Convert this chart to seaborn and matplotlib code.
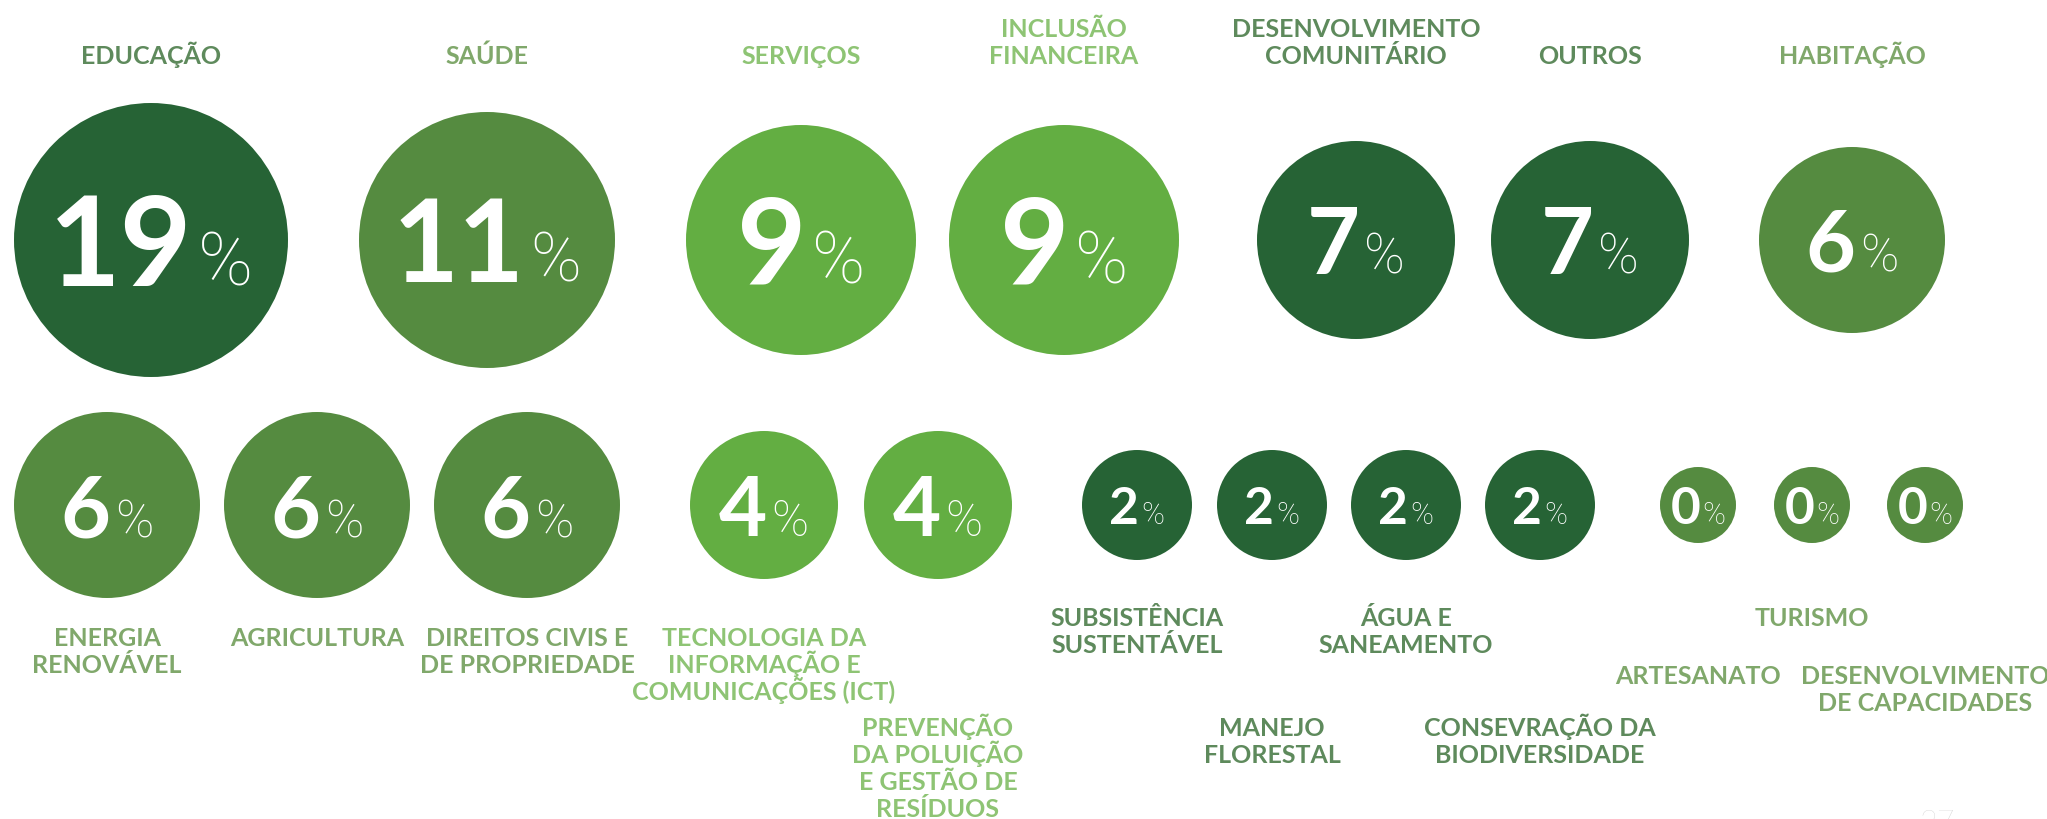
import pandas as pd
import matplotlib
matplotlib.use("Agg")
import matplotlib.pyplot as plt
import seaborn as sns

# dados
categorias = [
    "EDUCAÇÃO", "SAÚDE", "SERVIÇOS", "INCLUSÃO\nFINANCEIRA",
    "DESENVOLVIMENTO\nCOMUNITÁRIO", "OUTROS", "HABITAÇÃO",
    "ENERGIA\nRENOVÁVEL", "AGRICULTURA", "DIREITOS CIVIS E\nDE PROPRIEDADE",
    "TECNOLOGIA DA\nINFORMAÇÃO E\nCOMUNICAÇÕES (ICT)",
    "PREVENÇÃO\nDA POLUIÇÃO\nE GESTÃO DE\nRESÍDUOS",
    "SUBSISTÊNCIA\nSUSTENTÁVEL", "MANEJO\nFLORESTAL", "ÁGUA E\nSANEAMENTO",
    "CONSEVRAÇÃO DA\nBIODIVERSIDADE",
    "ARTESANATO", "TURISMO", "DESENVOLVIMENTO\nDE CAPACIDADES",
]
valores = [19, 11, 9, 9, 7, 7, 6, 6, 6, 6, 4, 4, 2, 2, 2, 2, 0, 0, 0]
pagina = "27"

# layout (pixels da figura)
linha = [0] * 7 + [1] * 12
pos_x = [151, 487, 801, 1064, 1356, 1590, 1852,
         107, 317, 527, 764, 938, 1137, 1272, 1406, 1540, 1698, 1812, 1925]
pos_y_linha = {0: 240, 1: 505}
# linha 0: base da última linha do rótulo; linha 1: centro da primeira linha
rotulo_y = [64] * 7 + [637, 637, 637, 637, 727, 617, 727, 617, 727, 675, 617, 675]

# estilos por valor
ESCURO, MEDIO, CLARO = "#266335", "#558B40", "#63AE42"
cor_circulo = {19: ESCURO, 11: MEDIO, 9: CLARO, 7: ESCURO, 6: MEDIO, 4: CLARO, 2: ESCURO, 0: MEDIO}
cor_rotulo = {ESCURO: "#5E8A5C", MEDIO: "#80A86B", CLARO: "#8EC474"}
raio = {19: 137, 11: 128, 9: 115, 7: 99, 6: 93, 4: 74, 2: 55, 0: 38}
altura_digito = {19: 89, 11: 82, 9: 86, 7: 66, 6: 62, 4: 60, 2: 37, 0: 37}

W, H, DPI = 2047, 819, 100
PX2PT = 72 / DPI

sns.set_theme(style="white")
plt.rcParams["font.family"] = ["Lato", "DejaVu Sans"]

df = pd.DataFrame({
    "categoria": categorias,
    "valor": valores,
    "x": pos_x,
    "y": [pos_y_linha[r] for r in linha],
})

fig = plt.figure(figsize=(W / DPI, H / DPI), dpi=DPI)
ax = fig.add_axes([0, 0, 1, 1])

tamanhos = {v: (2 * r * PX2PT) ** 2 for v, r in raio.items()}
sns.scatterplot(data=df, x="x", y="y", hue="valor", palette=cor_circulo,
                size="valor", sizes=tamanhos, legend=False, linewidth=0, ax=ax)

ax.set_xlim(0, W)
ax.set_ylim(H, 0)
ax.set_axis_off()

# números dentro dos círculos
pares = []
for _, row in df.iterrows():
    h = altura_digito[row.valor]
    base = row.y + h / 2 + 1
    num = ax.text(row.x, base, str(row.valor), fontsize=h * 1.0, fontweight="bold",
                  color="white", ha="left", va="baseline")
    pct = ax.text(row.x, base, "%", fontsize=h * 0.6, fontweight="light",
                  family=["Roboto", "DejaVu Sans"],
                  color="white", ha="left", va="baseline")
    pares.append((row.x, h, num, pct))

fig.canvas.draw()
renderer = fig.canvas.get_renderer()
for cx, h, num, pct in pares:
    w1 = num.get_window_extent(renderer).width
    w2 = pct.get_window_extent(renderer).width
    gap = 0.07 * h
    x0 = cx - (w1 + gap + w2) / 2
    num.set_x(x0)
    pct.set_x(x0 + w1 + gap)

# rótulos
LH = 27
for i, row in df.iterrows():
    linhas = row.categoria.split("\n")
    n = len(linhas)
    cor = cor_rotulo[cor_circulo[row.valor]]
    for k, txt in enumerate(linhas):
        if linha[i] == 0:
            yb = rotulo_y[i] - (n - 1 - k) * LH
        else:
            yb = rotulo_y[i] + 9 + k * LH
        ax.text(row.x, yb, txt, fontsize=18, fontweight="bold", color=cor,
                ha="center", va="baseline")

# número da página, cortado na borda inferior como no original
ax.text(1938, 832, pagina, fontsize=22, fontweight="light", color="#C9C9C9",
        ha="center", va="baseline")

fig.savefig("out.png", dpi=DPI)
